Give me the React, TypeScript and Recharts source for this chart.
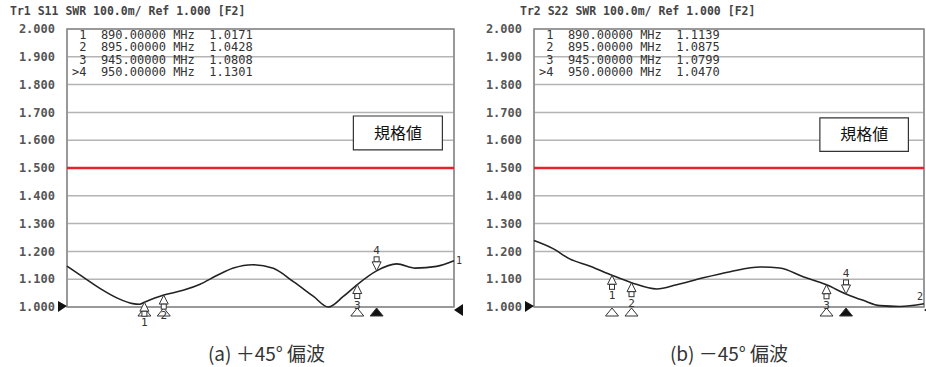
import { ComposedChart, Line, Scatter, XAxis, YAxis, CartesianGrid, ReferenceLine, ReferenceArea, ReferenceDot } from 'recharts'

// sweep 870-970 MHz, SWR 1.000-2.000
const freqTicks = [870, 880, 890, 900, 910, 920, 930, 940, 950, 960, 970]
const swrTicks = [1.0, 1.1, 1.2, 1.3, 1.4, 1.5, 1.6, 1.7, 1.8, 1.9, 2.0]
const limit = 1.5

// trace 1 (S11, +45°)
const freqA = [870, 874, 878.5, 883, 887, 888.8, 890, 895, 900, 904.4, 908.7, 913, 918, 923.3, 928.5, 933.7, 937.5, 941.4, 945, 950, 955.2, 960, 965.5, 970]
const swrA = [1.147, 1.109, 1.067, 1.032, 1.012, 1.01, 1.0171, 1.0428, 1.06, 1.082, 1.113, 1.14, 1.152, 1.139, 1.091, 1.038, 1.0, 1.038, 1.0808, 1.1301, 1.155, 1.14, 1.146, 1.166]

// trace 2 (S22, -45°)
const freqB = [870, 875, 879, 884.4, 890, 895, 901.5, 906.6, 913.4, 920.3, 928, 933, 939, 945, 950, 954.4, 958.7, 963.8, 970]
const swrB = [1.239, 1.209, 1.174, 1.147, 1.1139, 1.0875, 1.065, 1.08, 1.105, 1.127, 1.144, 1.14, 1.109, 1.0799, 1.047, 1.024, 1.005, 1.002, 1.012]

// marker table
const markerIds = ['1', '2', '3', '>4']
const markerFreqs = [890, 895, 945, 950]
const markerA = [1.0171, 1.0428, 1.0808, 1.1301]
const markerB = [1.1139, 1.0875, 1.0799, 1.047]
const activeMarker = 3

const mono = 'DejaVu Sans Mono, monospace'
const jp = '"Noto Sans CJK JP", sans-serif'

const toPoints = (f: number[], v: number[]) => f.map((x, i) => ({ f: x, v: v[i] }))
const toMarkers = (v: number[]) =>
  markerFreqs.map((f, i) => ({ f, v: v[i], n: markerIds[i].replace('>', ''), active: i === activeMarker }))

// marker flag drawn on the trace: active one points down from above
const curveMarker = (p: any) => {
  const { cx, cy, payload } = p
  if (payload.active) {
    return (
      <g>
        <rect x={cx - 2.5} y={cy - 14} width={5} height={5} fill="white" stroke="#333" strokeWidth={1} />
        <path d={`M${cx - 4.5},${cy - 9} L${cx + 4.5},${cy - 9} L${cx},${cy} Z`} fill="white" stroke="#333" strokeWidth={1} />
        <text x={cx} y={cy - 17} textAnchor="middle" fontSize={11} fontFamily={mono} fill="#333">{payload.n}</text>
      </g>
    )
  }
  return (
    <g>
      <path d={`M${cx},${cy} L${cx + 4.5},${cy + 9} L${cx - 4.5},${cy + 9} Z`} fill="white" stroke="#333" strokeWidth={1} />
      <rect x={cx - 2.5} y={cy + 9} width={5} height={5} fill="white" stroke="#333" strokeWidth={1} />
      <text x={cx} y={cy + 24} textAnchor="middle" fontSize={11} fontFamily={mono} fill="#333">{payload.n}</text>
    </g>
  )
}

// stimulus markers under the axis
const axisMarker = (p: any) => {
  const { cx, cy, payload } = p
  return (
    <path
      d={`M${cx},${cy + 1} L${cx + 6.5},${cy + 9} L${cx - 6.5},${cy + 9} Z`}
      fill={payload.active ? '#111' : 'white'}
      stroke="#333"
      strokeWidth={1}
    />
  )
}

const refLeft = (p: any) => (
  <path d={`M${p.cx - 9},${p.cy - 6} L${p.cx},${p.cy - 1} L${p.cx - 9},${p.cy + 5} Z`} fill="#111" />
)
const refRight = (p: any) => (
  <path d={`M${p.cx + 9},${p.cy - 3} L${p.cx},${p.cy + 3} L${p.cx + 9},${p.cy + 9} Z`} fill="#111" />
)

type PanelProps = {
  left: number
  width: number
  yAxisW: number
  marginRight: number
  curve: { f: number; v: number }[]
  values: number[]
  title: string
  titleX: number
  trace: string
  traceInside: boolean
  caption: string
  captionShift: number
  box: [number, number, number, number]
}

function Panel({ left, width, yAxisW, marginRight, curve, values, title, titleX, trace, traceInside, caption, captionShift, box }: PanelProps) {
  const markers = toMarkers(values)
  const last = curve[curve.length - 1]
  const plotW = width - yAxisW - marginRight
  const traceLabel = (p: any) => (
    <text
      x={traceInside ? p.cx - 1 : p.cx + 2}
      y={traceInside ? p.cy - 4 : p.cy + 3}
      textAnchor={traceInside ? 'end' : 'start'}
      fontSize={10}
      fontFamily={mono}
      fill="#333"
    >
      {trace}
    </text>
  )
  return (
    <div style={{ position: 'absolute', left, top: 0, width, height: 367 }}>
      <div style={{ position: 'absolute', left: titleX, top: 4, fontFamily: mono, fontWeight: 'bold', fontSize: 11.5, color: '#444', whiteSpace: 'pre' }}>
        {title}
      </div>
      <ComposedChart width={width} height={330} data={curve} margin={{ top: 29, right: marginRight, bottom: 23, left: 0 }}>
        <CartesianGrid stroke="#b4b4b4" strokeWidth={1.5} />
        <XAxis dataKey="f" type="number" domain={[870, 970]} ticks={freqTicks} height={0} tick={false} axisLine={false} tickLine={false} />
        <YAxis
          type="number"
          domain={[1, 2]}
          ticks={swrTicks}
          width={yAxisW}
          tickFormatter={(t: number) => t.toFixed(3)}
          tick={{ fill: '#555', fontSize: 12, fontFamily: mono, fontWeight: 'bold' }}
          tickSize={0}
          tickMargin={12}
          axisLine={false}
          tickLine={false}
        />
        <ReferenceArea x1={870} x2={970} y1={1} y2={2} fill="none" stroke="#8a8a8a" strokeWidth={1.5} />
        <ReferenceLine y={limit} stroke="#e8202a" strokeWidth={2.5} />
        <ReferenceArea
          x1={box[0]}
          x2={box[1]}
          y1={box[2]}
          y2={box[3]}
          fill="white"
          fillOpacity={1}
          stroke="#333"
          strokeWidth={1.2}
          label={{ value: '規格値', position: 'center', fill: '#111', fontSize: 16, fontFamily: jp }}
        />
        <Line type="monotone" dataKey="v" stroke="#222" strokeWidth={1.6} dot={false} isAnimationActive={false} />
        <Scatter data={markers.map(m => ({ ...m, v: 1 }))} dataKey="v" shape={axisMarker} isAnimationActive={false} />
        <Scatter data={markers} dataKey="v" shape={curveMarker} isAnimationActive={false} />
        <ReferenceDot x={870} y={1} shape={refLeft} ifOverflow="visible" />
        <ReferenceDot x={970} y={1} shape={refRight} ifOverflow="visible" />
        <ReferenceDot x={last.f} y={last.v} shape={traceLabel} ifOverflow="visible" />
      </ComposedChart>
      <div style={{ position: 'absolute', left: yAxisW + 5, top: 29, fontFamily: mono, fontSize: 12, lineHeight: '12.3px', color: '#333', whiteSpace: 'pre' }}>
        {markerIds.map((id, i) => (
          <div key={id}>{`${id.padStart(2)}  ${markerFreqs[i].toFixed(5)} MHz  ${values[i].toFixed(4)}`}</div>
        ))}
      </div>
      <div style={{ position: 'absolute', left: yAxisW + captionShift, width: plotW, top: 339, textAlign: 'center', fontFamily: jp, fontSize: 19, color: '#333', whiteSpace: 'pre' }}>
        {caption}
      </div>
    </div>
  )
}

export default function App() {
  return (
    <div style={{ position: 'absolute', left: 0, top: 0, width: 926, height: 367, background: 'white', overflow: 'hidden' }}>
      <Panel
        left={0}
        width={470}
        yAxisW={67}
        marginRight={16}
        curve={toPoints(freqA, swrA)}
        values={markerA}
        title="Tr1 S11 SWR 100.0m/ Ref 1.000 [F2]"
        titleX={10}
        trace="1"
        traceInside={false}
        caption="(a) ＋45° 偏波"
        captionShift={6}
        box={[944, 967, 1.565, 1.687]}
      />
      <Panel
        left={470}
        width={456}
        yAxisW={64}
        marginRight={2}
        curve={toPoints(freqB, swrB)}
        values={markerB}
        title="Tr2 S22 SWR 100.0m/ Ref 1.000 [F2]"
        titleX={50}
        trace="2"
        traceInside={true}
        caption="(b) －45° 偏波"
        captionShift={0}
        box={[943.3, 966, 1.56, 1.68]}
      />
    </div>
  )
}
